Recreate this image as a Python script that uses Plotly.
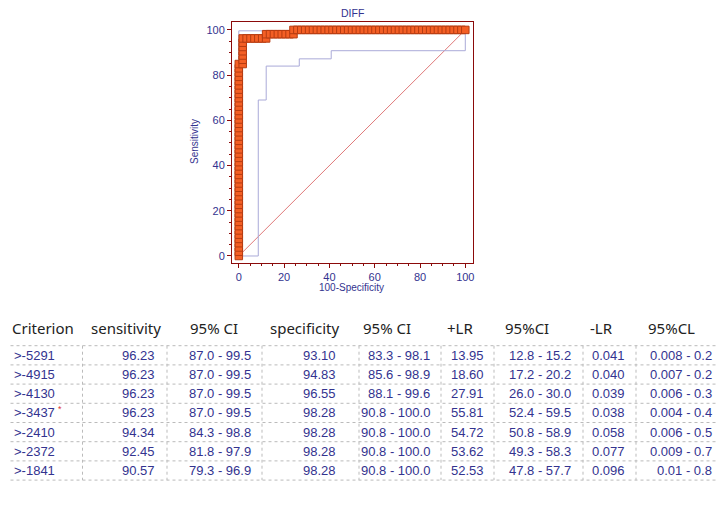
import numpy as np
import plotly.graph_objects as go

# the page body adds an 8 px margin, so the figure is made 8 px smaller
OFF = 8
W, H = 724 - OFF, 509 - OFF

# ---------------- data ----------------
N_POS = 53
N_NEG = 58
# ROC curve: cumulative false positives / true positives at each criterion
roc_fp = [0, 0, 0, 0, 0, 0, 0, 0, 0, 0, 0, 0, 0, 0, 0, 0, 0, 0, 0, 0,
          0, 0, 0, 0, 0, 0, 0, 0, 0, 0, 0, 0, 0, 0, 0, 0, 0, 0, 0, 0,
          0, 0, 0, 0, 0, 0,
          1, 1, 1, 1, 1, 1, 1,
          2, 3, 4, 5, 6, 7,
          7,
          8, 9, 10, 11, 12, 13, 14,
          14,
          15, 16, 17, 18, 19, 20, 21, 22, 23, 24, 25, 26, 27, 28, 29, 30,
          31, 32, 33, 34, 35, 36, 37, 38, 39, 40, 41, 42, 43, 44, 45, 46,
          47, 48, 49, 50, 51, 52, 53, 54, 55, 56, 57, 58]
roc_tp = [0, 1, 2, 3, 4, 5, 6, 7, 8, 9, 10, 11, 12, 13, 14, 15, 16, 17, 18, 19,
          20, 21, 22, 23, 24, 25, 26, 27, 28, 29, 30, 31, 32, 33, 34, 35, 36, 37, 38, 39,
          40, 41, 42, 43, 44, 45,
          45, 46, 47, 48, 49, 50, 51,
          51, 51, 51, 51, 51, 51,
          52,
          52, 52, 52, 52, 52, 52, 52,
          53,
          53, 53, 53, 53, 53, 53, 53, 53, 53, 53, 53, 53, 53, 53, 53, 53,
          53, 53, 53, 53, 53, 53, 53, 53, 53, 53, 53, 53, 53, 53, 53, 53,
          53, 53, 53, 53, 53, 53, 53, 53, 53, 53, 53, 53]

# confidence bounds (step corners)
ci_low_x = [0, 8.6, 12.1, 26.7, 40.8, 100]
ci_low_y = [0, 69.0, 84.0, 87.2, 90.8, 100]
ci_up_x = [0, 0, 24.1, 100]
ci_up_y = [0, 99.6, 100, 100]

diag_x = [0, 100]
diag_y = [0, 100]

# table
headers = ["Criterion", "sensitivity", "95% CI", "specificity", "95% CI",
           "+LR", "95%CI", "-LR", "95%CL"]
criterion = [">-5291", ">-4915", ">-4130", ">-3437", ">-2410", ">-2372", ">-1841"]
optimal = [False, False, False, True, False, False, False]
sensitivity = ["96.23", "96.23", "96.23", "96.23", "94.34", "92.45", "90.57"]
sens_ci = ["87.0 - 99.5", "87.0 - 99.5", "87.0 - 99.5", "87.0 - 99.5",
           "84.3 - 98.8", "81.8 - 97.9", "79.3 - 96.9"]
specificity = ["93.10", "94.83", "96.55", "98.28", "98.28", "98.28", "98.28"]
spec_ci = ["83.3 - 98.1", "85.6 - 98.9", "88.1 - 99.6", "90.8 - 100.0",
           "90.8 - 100.0", "90.8 - 100.0", "90.8 - 100.0"]
plus_lr = ["13.95", "18.60", "27.91", "55.81", "54.72", "53.62", "52.53"]
plus_lr_ci = ["12.8 - 15.2", "17.2 - 20.2", "26.0 - 30.0", "52.4 - 59.5",
              "50.8 - 58.9", "49.3 - 58.3", "47.8 - 57.7"]
minus_lr = ["0.041", "0.040", "0.039", "0.038", "0.058", "0.077", "0.096"]
minus_lr_ci = ["0.008 - 0.2", "0.007 - 0.2", "0.006 - 0.3", "0.004 - 0.4",
               "0.006 - 0.5", "0.009 - 0.7", "0.01 - 0.8"]

# ---------------- figure ----------------
def pxx(x):
    return (x - OFF) / W


def pxy(y):
    return 1 - (y - OFF) / H


roc_x = np.array(roc_fp) / N_NEG * 100
roc_y = np.array(roc_tp) / N_POS * 100

NAVY = "#33338f"
FRAME = "#8b0a0a"

fig = go.Figure()
fig.add_trace(go.Scatter(x=diag_x, y=diag_y, mode="lines",
                         line=dict(color="#e07a7a", width=1), hoverinfo="skip"))
fig.add_trace(go.Scatter(x=ci_low_x, y=ci_low_y, mode="lines", line_shape="hv",
                         line=dict(color="#aaaad8", width=1), hoverinfo="skip"))
fig.add_trace(go.Scatter(x=ci_up_x, y=ci_up_y, mode="lines", line_shape="hv",
                         line=dict(color="#aaaad8", width=1), hoverinfo="skip"))
fig.add_trace(go.Scatter(x=roc_x, y=roc_y, mode="lines+markers",
                         line=dict(color="#ee5522", width=3),
                         marker=dict(symbol="square", size=7.5, color="#f45f25",
                                     line=dict(color="#b53c12", width=1))))

x0d, x1d = 232, 473
y0d, y1d = 22, 263
axis_common = dict(showgrid=False, zeroline=False, showline=True, linecolor=FRAME,
                   linewidth=1, mirror=True, ticks="outside", ticklen=4,
                   tickcolor=FRAME, tickmode="linear", tick0=0, dtick=20,
                   tickfont=dict(family="Liberation Sans, Arial", size=11, color=NAVY),
                   minor=dict(ticks="outside", ticklen=2, tickcolor=FRAME, dtick=5,
                              showgrid=False))
fig.update_layout(
    width=W, height=H, margin=dict(l=0, r=0, t=0, b=0),
    paper_bgcolor="white", plot_bgcolor="white", showlegend=False,
    xaxis=dict(domain=[pxx(x0d), pxx(x1d)], range=[-3, 103.4], **axis_common),
    yaxis=dict(domain=[pxy(y1d), pxy(y0d)], range=[-3.1, 103.5], **axis_common),
)

ann = []
lab_font = dict(family="Liberation Sans, Arial", size=10, color=NAVY)
ann.append(dict(text="DIFF", x=pxx(352), y=pxy(13), xref="paper", yref="paper",
                showarrow=False, xanchor="center", yanchor="middle",
                font=dict(family="Liberation Sans, Arial", size=10.5, color=NAVY)))
ann.append(dict(text="100-Specificity", x=pxx(351), y=pxy(287), xref="paper",
                yref="paper", showarrow=False, xanchor="center", yanchor="middle",
                font=lab_font))
ann.append(dict(text="Sensitivity", x=pxx(195), y=pxy(142), xref="paper",
                yref="paper", showarrow=False, xanchor="center", yanchor="middle",
                textangle=-90, font=lab_font))

# table header
head_x = [10, 89, 188, 268, 361, 445, 503, 588, 646]
for t, hx in zip(headers, head_x):
    ann.append(dict(text=t, x=pxx(hx), y=pxy(328), xref="paper", yref="paper",
                    showarrow=False, xanchor="left", yanchor="middle",
                    font=dict(family="Noto Sans", size=15, color="#222222")))

# table grid
col_lines = [4.5, 82.5, 167, 262, 359, 441, 494, 583, 636, 720]
row_top = 345.7
row_h = 19.2
n_rows = len(criterion)
shapes = []
for k in range(n_rows + 1):
    yy = row_top + k * row_h
    shapes.append(dict(type="line", xref="paper", yref="paper",
                       x0=pxx(col_lines[0]), x1=pxx(col_lines[-1]), y0=pxy(yy), y1=pxy(yy),
                       line=dict(color="#bbbbbb", width=1, dash="dot")))
for cx in col_lines:
    shapes.append(dict(type="line", xref="paper", yref="paper",
                       x0=pxx(cx), x1=pxx(cx), y0=pxy(row_top),
                       y1=pxy(row_top + n_rows * row_h),
                       line=dict(color="#bbbbbb", width=1, dash="dot")))

cell_font = dict(family="Liberation Sans, Arial", size=13, color=NAVY)
right_x = [157, 253, 338, 432, 486, 573, 627, 714]
columns = [sensitivity, sens_ci, specificity, spec_ci, plus_lr, plus_lr_ci,
           minus_lr, minus_lr_ci]
for i in range(n_rows):
    yc = row_top + row_h * (i + 0.5)
    ann.append(dict(text=criterion[i], x=pxx(12), y=pxy(yc), xref="paper", yref="paper",
                    showarrow=False, xanchor="left", yanchor="middle", font=cell_font))
    if optimal[i]:
        ann.append(dict(text="*", x=pxx(56), y=pxy(yc - 4), xref="paper", yref="paper",
                        showarrow=False, xanchor="left", yanchor="middle",
                        font=dict(family="Liberation Sans", size=9, color="#dd3333")))
    for col, rx in zip(columns, right_x):
        ann.append(dict(text=col[i], x=pxx(rx), y=pxy(yc), xref="paper", yref="paper",
                        showarrow=False, xanchor="right", yanchor="middle",
                        font=cell_font))

fig.update_layout(annotations=ann, shapes=shapes)
fig.write_html("out.html")
